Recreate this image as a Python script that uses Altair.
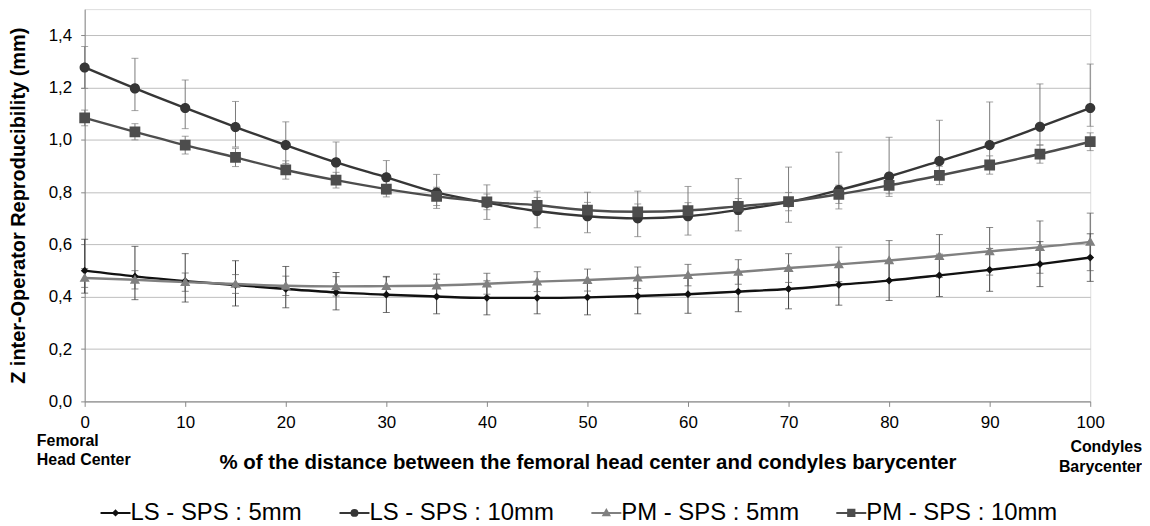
import altair as alt
import pandas as pd

pct = list(range(0, 101, 5))
series_names = ["LS - SPS : 5mm", "LS - SPS : 10mm", "PM - SPS : 5mm", "PM - SPS : 10mm"]

ls5 = [0.500, 0.478, 0.460, 0.445, 0.430, 0.417, 0.408, 0.401, 0.396, 0.396, 0.398,
       0.403, 0.410, 0.420, 0.430, 0.446, 0.462, 0.482, 0.503, 0.525, 0.550]
ls5_plus = [0.120, 0.115, 0.105, 0.093, 0.086, 0.076, 0.068, 0.066, 0.065, 0.062, 0.066,
            0.069, 0.073, 0.077, 0.076, 0.078, 0.076, 0.081, 0.082, 0.086, 0.091]
ls5_minus = [0.086, 0.089, 0.080, 0.080, 0.072, 0.067, 0.068, 0.066, 0.065, 0.061, 0.067,
             0.068, 0.073, 0.077, 0.076, 0.078, 0.076, 0.081, 0.082, 0.086, 0.091]

ls10 = [1.277, 1.197, 1.122, 1.049, 0.980, 0.914, 0.857, 0.799, 0.760, 0.728, 0.708,
        0.700, 0.708, 0.732, 0.762, 0.808, 0.860, 0.919, 0.980, 1.050, 1.122]
ls10_plus = [0.080, 0.115, 0.107, 0.098, 0.089, 0.078, 0.064, 0.069, 0.068, 0.076, 0.092,
             0.104, 0.114, 0.120, 0.134, 0.145, 0.150, 0.156, 0.165, 0.164, 0.168]
ls10_minus = [0.080, 0.085, 0.079, 0.076, 0.070, 0.068, 0.064, 0.061, 0.064, 0.064, 0.063,
              0.070, 0.072, 0.080, 0.077, 0.072, 0.066, 0.065, 0.070, 0.070, 0.070]

pm5 = [0.472, 0.465, 0.456, 0.449, 0.442, 0.440, 0.441, 0.443, 0.450, 0.458, 0.464,
       0.473, 0.483, 0.495, 0.510, 0.524, 0.539, 0.556, 0.574, 0.590, 0.610]
pm5_err = [0.036, 0.035, 0.035, 0.036, 0.037, 0.037, 0.037, 0.044, 0.040, 0.038, 0.042,
           0.041, 0.041, 0.047, 0.055, 0.066, 0.076, 0.082, 0.091, 0.100, 0.110]

pm10 = [1.084, 1.031, 0.980, 0.933, 0.885, 0.846, 0.812, 0.784, 0.763, 0.750, 0.731,
        0.725, 0.730, 0.746, 0.764, 0.792, 0.826, 0.864, 0.904, 0.946, 0.993]
pm10_err = [0.030, 0.031, 0.034, 0.035, 0.035, 0.030, 0.030, 0.035, 0.030, 0.030, 0.030,
            0.030, 0.030, 0.030, 0.035, 0.035, 0.042, 0.035, 0.035, 0.035, 0.034]

line_colors = ["#111111", "#363636", "#808080", "#4d4d4d"]
err_colors = ["#3a3a3a", "#7a7a7a", "#5a5a5a", "#7a7a7a"]
# custom symbols: a legend line segment plus the marker
shape_paths = [
    "M-4.3,0H4.3M0,-0.65L0.65,0L0,0.65L-0.65,0Z",
    "M-4.3,0H4.3M0.85,0A0.85,0.85,0,1,1,-0.85,0A0.85,0.85,0,1,1,0.85,0Z",
    "M-4.3,0H4.3M0,-0.85L0.85,0.65L-0.85,0.65Z",
    "M-4.3,0H4.3M-0.9,-0.9H0.9V0.9H-0.9Z",
]

end_left = ["Femoral", "Head Center"]
end_right = ["Condyles", "Barycenter"]

values = [ls5, ls10, pm5, pm10]
pluses = [ls5_plus, ls10_plus, pm5_err, pm10_err]
minuses = [ls5_minus, ls10_minus, pm5_err, pm10_err]

rows = []
for si, name in enumerate(series_names):
    for i, p in enumerate(pct):
        v = values[si][i]
        rows.append({
            "pct": p, "series": name, "value": v,
            "lo": v - minuses[si][i], "hi": v + pluses[si][i],
            "ecol": err_colors[si], "lcol": line_colors[si],
        })
df = pd.DataFrame(rows)

FONT = "Liberation Sans"
xenc = alt.X("pct:Q", scale=alt.Scale(domain=[0, 100], nice=False),
             axis=alt.Axis(values=list(range(0, 101, 10)),
                           title="% of the distance between the femoral head center and condyles barycenter",
                           titleFont=FONT, titleFontSize=20.5, titleFontWeight="bold", titleColor="#000",
                           labelFont=FONT, labelFontSize=17, labelColor="#000", labelPadding=8,
                           titlePadding=22, tickSize=5, tickColor="#888", domainColor="#888",
                           grid=False, labelFlush=False))
yscale = alt.Scale(domain=[0, 1.5], nice=False)
yaxis = alt.Axis(values=[0, 0.2, 0.4, 0.6, 0.8, 1.0, 1.2, 1.4],
                 labelExpr="replace(format(datum.value, '.1f'), '.', ',')",
                 title="Z inter-Operator Reproducibility (mm)",
                 titleFont=FONT, titleFontSize=20, titleFontWeight="bold", titleColor="#000",
                 labelFont=FONT, labelFontSize=17, labelColor="#000", labelPadding=9,
                 titlePadding=20, tickSize=4, tickColor="#888", domainColor="#888",
                 grid=True, gridColor="#bdbdbd", gridWidth=1)

base = alt.Chart(df)

err_rule = base.mark_rule(strokeWidth=1).encode(
    x=xenc, y=alt.Y("lo:Q", scale=yscale, axis=yaxis), y2="hi:Q",
    color=alt.Color("ecol:N", scale=None))
cap_lo = base.mark_tick(orient="horizontal", size=7, thickness=1).encode(
    x="pct:Q", y="lo:Q", color=alt.Color("ecol:N", scale=None))
cap_hi = base.mark_tick(orient="horizontal", size=7, thickness=1).encode(
    x="pct:Q", y="hi:Q", color=alt.Color("ecol:N", scale=None))

lines = base.mark_line(interpolate="monotone", strokeWidth=2.4).encode(
    x="pct:Q", y="value:Q",
    color=alt.Color("lcol:N", scale=None),
    detail="series:N")

legend = alt.Legend(
    title=None, orient="none", legendX=19, legendY=494, direction="horizontal",
    labelFont=FONT, labelFontSize=24, labelColor="#000", labelLimit=400,
    symbolSize=49, symbolStrokeWidth=2, labelOffset=3, columnPadding=32,
    gridAlign="none", padding=0, symbolOpacity=1)

points = base.mark_point(filled=True, size=144, opacity=1).encode(
    x="pct:Q", y="value:Q",
    fill=alt.Fill("series:N", scale=alt.Scale(domain=series_names, range=line_colors), legend=legend),
    stroke=alt.Stroke("series:N", scale=alt.Scale(domain=series_names, range=line_colors), legend=legend),
    shape=alt.Shape("series:N", scale=alt.Scale(domain=series_names, range=shape_paths), legend=legend),
    strokeWidth=alt.value(0))

txt_left = alt.Chart(pd.DataFrame({"pct": [0], "lines": [end_left]})).mark_text(
    align="left", baseline="middle", dx=-48, font=FONT, fontSize=16, fontWeight="bold",
    lineHeight=19, color="#000").encode(x="pct:Q", y=alt.value(434), text="lines")
txt_right = alt.Chart(pd.DataFrame({"pct": [100], "lines": [end_right]})).mark_text(
    align="right", baseline="middle", dx=52, font=FONT, fontSize=16, fontWeight="bold",
    lineHeight=20, color="#000").encode(x="pct:Q", y=alt.value(440), text="lines")

chart = alt.layer(err_rule, cap_lo, cap_hi, lines, points, txt_left, txt_right).properties(
    width=1010, height=394,
    padding={"left": 0, "top": 0, "right": 0, "bottom": 0},
).configure_view(stroke="#888", strokeWidth=1).configure(background="white")

chart.save("out.html", embed_options={"renderer": "svg", "actions": False})
